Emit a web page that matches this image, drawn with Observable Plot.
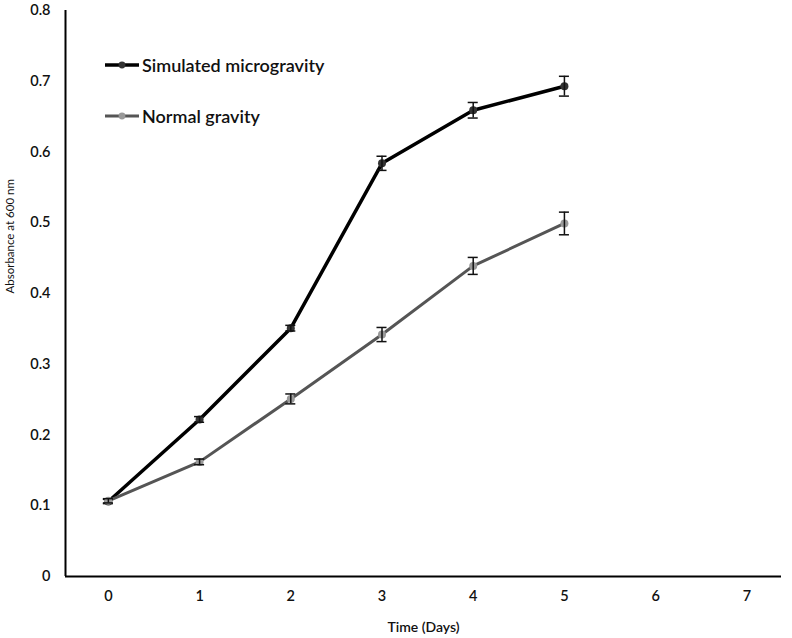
<!DOCTYPE html>
<html>
<head>
<meta charset="utf-8">
<script src="https://cdn.jsdelivr.net/npm/d3@7"></script>
<script src="https://cdn.jsdelivr.net/npm/@observablehq/plot@0.6"></script>
<style>
  html, body { margin: 0; padding: 0; background: #fff; }
  #wrap { position: relative; width: 792px; height: 638px; font-family: Lato, "Open Sans", sans-serif; }
  .legend { position: absolute; left: 104px; font-size: 18px; font-weight: 600; color: #111; display: flex; align-items: center; line-height: 20px; }
  .legend svg { margin-right: 2px; }
</style>
</head>
<body>
<div id="wrap">
  <div class="legend" style="top:55px">
    <svg width="36" height="12"><line x1="1" y1="6" x2="35" y2="6" stroke="#000" stroke-width="3.5"/><circle cx="18" cy="6" r="3.4" fill="#333"/></svg>
    <span>Simulated microgravity</span>
  </div>
  <div class="legend" style="top:106px">
    <svg width="36" height="12"><line x1="1" y1="6" x2="35" y2="6" stroke="#555" stroke-width="3"/><circle cx="18" cy="6" r="3.4" fill="#999"/></svg>
    <span>Normal gravity</span>
  </div>
</div>
<script>
const days = [0, 1, 2, 3, 4, 5];
const microgravity = [0.106, 0.222, 0.351, 0.584, 0.659, 0.693];
const microgravityErr = [0.003, 0.004, 0.004, 0.010, 0.011, 0.014];
const normalGravity = [0.107, 0.162, 0.251, 0.342, 0.439, 0.499];
const normalGravityErr = [0.003, 0.004, 0.007, 0.010, 0.012, 0.016];
const xTicks = [0, 1, 2, 3, 4, 5, 6, 7];
const yTicks = [0, 0.1, 0.2, 0.3, 0.4, 0.5, 0.6, 0.7, 0.8];

const series = [
  {name: "Simulated microgravity", values: microgravity, err: microgravityErr, stroke: "#000", fill: "#333", sw: 3.5},
  {name: "Normal gravity", values: normalGravity, err: normalGravityErr, stroke: "#555", fill: "#999", sw: 3}
];
const rows = series.flatMap(s => days.map((d, i) => ({series: s.name, day: d, value: s.values[i], err: s.err[i]})));

const capHalf = 0.055;
const marks = [];
marks.push(Plot.axisX(xTicks, {tickSize: 0, tickPadding: 14, fontSize: 14.5, fontWeight: 600, fill: "#111", label: null, tickFormat: d => String(d)}));
marks.push(Plot.axisY(yTicks, {tickSize: 0, tickPadding: 15, fontSize: 14.5, fontWeight: 600, fill: "#111", label: null, tickFormat: d => d === 0 ? "0" : d3.format(".1f")(d)}));
marks.push(Plot.ruleY([0], {stroke: "#000", strokeWidth: 2}));
marks.push(Plot.ruleX([-0.47], {y1: 0, y2: 0.8, stroke: "#000", strokeWidth: 2}));
for (const s of series) {
  const data = rows.filter(r => r.series === s.name);
  marks.push(Plot.line(data, {x: "day", y: "value", stroke: s.stroke, strokeWidth: s.sw, curve: "linear"}));
}
for (const s of series) {
  const data = rows.filter(r => r.series === s.name);
  marks.push(Plot.dot(data, {x: "day", y: "value", r: 4, fill: s.fill, stroke: "none"}));
  marks.push(Plot.ruleX(data, {x: "day", y1: d => d.value - d.err, y2: d => d.value + d.err, stroke: "#111", strokeWidth: 1.5}));
  marks.push(Plot.ruleY(data, {y: d => d.value + d.err, x1: d => d.day - capHalf, x2: d => d.day + capHalf, stroke: "#111", strokeWidth: 1.5}));
  marks.push(Plot.ruleY(data, {y: d => d.value - d.err, x1: d => d.day - capHalf, x2: d => d.day + capHalf, stroke: "#111", strokeWidth: 1.5}));
}
marks.push(Plot.text(["Time (Days)"], {frameAnchor: "bottom", dy: 55, fontSize: 14, fontWeight: 600, fill: "#111", text: d => d}));
marks.push(Plot.text(["Absorbance at 600 nm"], {frameAnchor: "left", dx: -55, rotate: -90, fontSize: 11.5, fill: "#111", text: d => d}));

const chart = Plot.plot({
  width: 792,
  height: 638,
  marginLeft: 65,
  marginRight: 11,
  marginTop: 10,
  marginBottom: 62,
  style: {fontFamily: "Lato, 'Open Sans', sans-serif", background: "#fff", overflow: "visible"},
  x: {domain: [-0.47, 7.38], axis: null},
  y: {domain: [0, 0.8], axis: null},
  marks
});
document.getElementById("wrap").prepend(chart);
</script>
</body>
</html>
